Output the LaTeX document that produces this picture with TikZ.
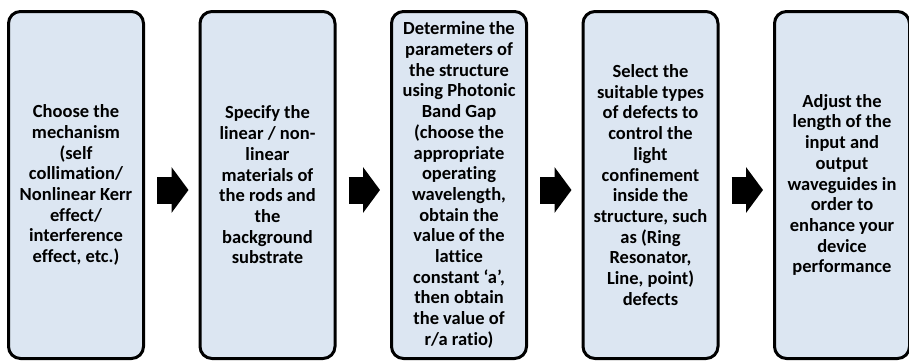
\documentclass[tikz,border=0pt]{standalone}
\usepackage{fontspec}
\setmainfont{Carlito}[Ligatures=NoCommon]
\usepackage{tikz}
\usetikzlibrary{positioning, arrows.meta}
\definecolor{boxblue}{HTML}{DCE6F2}
\tikzstyle{stagebox} = [draw=black, line width=3pt, fill=boxblue, rounded corners=12pt,
  minimum width=135pt, minimum height=347pt, inner sep=0pt, align=center,
  font=\fontsize{18.5}{20.7}\selectfont\bfseries]
\tikzstyle{flowarrow} = [line width=27pt, -{Triangle[width=45pt,length=17pt]},
  shorten <=12pt, shorten >=10pt]

\begin{document}
\begin{tikzpicture}[node distance=191.5pt]
        \useasboundingbox (0,0) rectangle (909pt,360pt);
        \node[stagebox] (s1) at (76pt,175pt) {Choose the\\mechanism\\(self\\collimation/\\Nonlinear Kerr\\effect/\\interference\\effect, etc.)};
        \node[stagebox, right of=s1] (s2) {Specify the\\linear / non-\\linear\\materials of\\the rods and\\the\\background\\substrate};
        \node[stagebox, right of=s2] (s3) {Determine the\\parameters of\\the structure\\using Photonic\\Band Gap\\(choose the\\appropriate\\operating\\wavelength,\\obtain the\\value of the\\lattice\\constant ‘a’,\\then obtain\\the value of\\r/a ratio)};
        \node[stagebox, right of=s3] (s4) {Select the\\suitable types\\of defects to\\control the\\light\\confinement\\inside the\\structure, such\\as (Ring\\Resonator,\\Line, point)\\defects};
        \node[stagebox, right of=s4] (s5) {Adjust the\\length of the\\input and\\output\\waveguides in\\order to\\enhance your\\device\\performance};
        \foreach \a/\b in {s1/s2, s2/s3, s3/s4, s4/s5}
            \draw[flowarrow] ([yshift=-5pt]\a.east) -- ([yshift=-5pt]\b.west);
    \end{tikzpicture}
\end{document}
